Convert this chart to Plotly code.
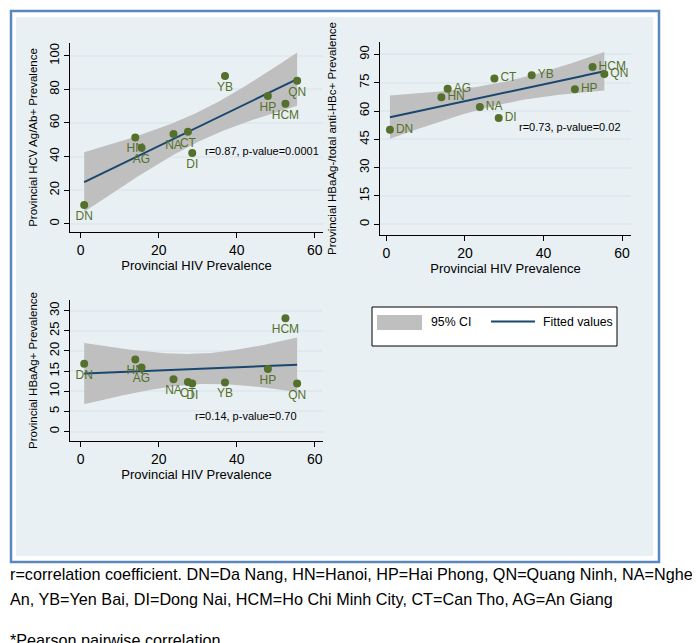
import numpy as np
import plotly.graph_objects as go

# ---------------- data ----------------
provinces = ["DN", "HN", "AG", "NA", "CT", "DI", "YB", "HP", "HCM", "QN"]
hiv_prev = [0.9, 14.0, 15.6, 23.8, 27.5, 28.6, 37.0, 48.0, 52.5, 55.5]
hcv_prev = [11.1, 51.4, 45.2, 53.4, 54.8, 42.1, 87.9, 76.0, 71.4, 85.1]
hbc_prev = [50.1, 67.3, 71.8, 62.2, 77.3, 56.3, 79.0, 71.6, 83.3, 79.7]
hbs_prev = [16.8, 17.9, 15.9, 13.0, 12.3, 11.9, 12.2, 15.5, 28.1, 11.9]

y_titles = ["Provincial HCV Ag/Ab+ Prevalence",
            "Provincial HBaAg-/total anti-HBc+ Prevalence",
            "Provincial HBaAg+ Prevalence"]
x_title = "Provincial HIV Prevalence"
stat_labels = ["r=0.87, p-value=0.0001", "r=0.73, p-value=0.02", "r=0.14, p-value=0.70"]
x_ticks = [0, 20, 40, 60]
y_ticks = [[0, 20, 40, 60, 80, 100], [0, 15, 30, 45, 60, 75, 90], [0, 5, 10, 15, 20, 25, 30]]
legend_labels = ["95% CI", "Fitted values"]
caption_lines = [
    "r=correlation coefficient. DN=Da Nang, HN=Hanoi, HP=Hai Phong, QN=Quang Ninh, NA=Nghe",
    "An, YB=Yen Bai, DI=Dong Nai, HCM=Ho Chi Minh City, CT=Can Tho, AG=An Giang",
    "*Pearson pairwise correlation",
]

# ---------------- style ----------------
W, H = 700, 643
FONT = "Liberation Sans, Arial, sans-serif"
GREEN = "#55702c"
NAVY = "#1a476f"
CI_GRAY = "#bfbfbf"
BG = "#e9f0f3"
GRID = "#e0e9ed"


def px(x):
    return x / W


def py(y):
    return 1 - y / H


def lfitci(x, y, n=120):
    x = np.asarray(x, float)
    y = np.asarray(y, float)
    b, a = np.polyfit(x, y, 1)
    resid = y - (a + b * x)
    s = np.sqrt(np.sum(resid ** 2) / (len(x) - 2))
    sxx = np.sum((x - x.mean()) ** 2)
    xs = np.linspace(x.min(), x.max(), n)
    fit = a + b * xs
    se = s * np.sqrt(1 / len(x) + (xs - x.mean()) ** 2 / sxx)
    t = 2.306004  # t(0.975, df=8)
    return xs, fit, fit - t * se, fit + t * se


# panel geometry (pixels): x0, x1, y0(top), y1(bottom); axis ranges
panels = [
    dict(box=(62, 315, 35, 224), xr=[-2.74, 62.13], yr=[-4.94, 107.6], ys=hcv_prev,
         tpos="bottom center", stat_xy=(61.6, 43.3), standoff=6),
    dict(box=(372, 623, 34, 227), xr=[-1.63, 62.29], yr=[-5.69, 96.6], ys=hbc_prev,
         tpos="middle right", stat_xy=(60.2, 51.6), standoff=17),
    dict(box=(62, 315, 292, 433), xr=[-2.74, 62.13], yr=[-2.33, 32.63], ys=hbs_prev,
         tpos="bottom center", stat_xy=(56.0, 3.8), standoff=6),
]

fig = go.Figure()
layout = {}
annotations = []

for i, p in enumerate(panels):
    k = "" if i == 0 else str(i + 1)
    xa, ya = "x" + k, "y" + k
    xs, fit, lo, hi = lfitci(hiv_prev, p["ys"])
    fig.add_trace(go.Scatter(
        x=np.concatenate([xs, xs[::-1]]), y=np.concatenate([hi, lo[::-1]]),
        fill="toself", fillcolor=CI_GRAY, line=dict(width=0, color=CI_GRAY),
        mode="lines", name=legend_labels[0], showlegend=False,
        hoverinfo="skip", xaxis=xa, yaxis=ya))
    fig.add_trace(go.Scatter(
        x=xs, y=fit, mode="lines", line=dict(color=NAVY, width=2),
        name=legend_labels[1], showlegend=False, xaxis=xa, yaxis=ya))
    fig.add_trace(go.Scatter(
        x=hiv_prev, y=p["ys"], mode="markers+text", text=provinces,
        textposition=p["tpos"], textfont=dict(color=GREEN, size=12, family=FONT),
        marker=dict(color=GREEN, size=8), showlegend=False, cliponaxis=False,
        xaxis=xa, yaxis=ya))

    x0, x1, y0, y1 = p["box"]
    axis_common = dict(showline=True, linecolor="black", linewidth=1, ticks="outside",
                       ticklen=5, tickcolor="black", tickwidth=1, zeroline=False)
    layout["xaxis" + k] = dict(domain=[px(x0), px(x1)], range=p["xr"], tickvals=x_ticks,
                               showgrid=False, anchor=ya,
                               tickfont=dict(family=FONT, size=14, color="black"),
                               title=dict(text=x_title, standoff=3,
                                          font=dict(family=FONT, size=13, color="black")),
                               **axis_common)
    layout["yaxis" + k] = dict(domain=[py(y1), py(y0)], range=p["yr"], tickvals=y_ticks[i],
                               showgrid=True, gridcolor=GRID, gridwidth=1.5, anchor=xa,
                               tickangle=-90,
                               tickfont=dict(family=FONT, size=13, color="black"),
                               title=dict(text=y_titles[i], standoff=p["standoff"],
                                          font=dict(family=FONT, size=11.5, color="black")),
                               **axis_common)
    annotations.append(dict(x=p["stat_xy"][0], y=p["stat_xy"][1], xref=xa, yref=ya,
                            text=stat_labels[i], showarrow=False, xanchor="right",
                            yanchor="middle",
                            font=dict(family=FONT, size=11, color="black")))

# legend box (drawn like the Stata key)
shapes = [
    dict(type="rect", xref="paper", yref="paper", x0=px(3), x1=px(651), y0=py(554),
         y1=py(3), line=dict(color="#5b86c0", width=2.5), fillcolor="white", layer="below"),
    dict(type="rect", xref="paper", yref="paper", x0=px(8), x1=px(645), y0=py(548),
         y1=py(9), line=dict(width=0), fillcolor=BG, layer="below"),
    dict(type="rect", xref="paper", yref="paper", x0=px(364), x1=px(609), y0=py(338),
         y1=py(299), line=dict(color="black", width=1), fillcolor="white"),
    dict(type="rect", xref="paper", yref="paper", x0=px(369), x1=px(414), y0=py(322),
         y1=py(307), line=dict(width=0), fillcolor=CI_GRAY),
    dict(type="line", xref="paper", yref="paper", x0=px(483), x1=px(527), y0=py(313.5),
         y1=py(313.5), line=dict(color=NAVY, width=2)),
]
for lbl, lx in zip(legend_labels, [421, 533]):
    annotations.append(dict(x=px(lx), y=py(314), xref="paper", yref="paper", text=lbl,
                            showarrow=False, xanchor="left", yanchor="middle",
                            font=dict(family=FONT, size=12.3, color="black")))

# caption below the combined graph
cap_y = [566, 591, 632]
for line, yy in zip(caption_lines, cap_y):
    annotations.append(dict(x=0, y=py(yy), xref="paper", yref="paper", text=line,
                            showarrow=False, xanchor="left", yanchor="middle",
                            font=dict(family=FONT, size=16.2, color="black")))

fig.update_layout(
    width=W, height=H, margin=dict(l=0, r=0, t=0, b=0),
    paper_bgcolor="white", plot_bgcolor="white",
    font=dict(family=FONT, color="black"),
    showlegend=False,
    annotations=annotations, shapes=shapes,
    **layout,
)

fig.write_html("out.html")
